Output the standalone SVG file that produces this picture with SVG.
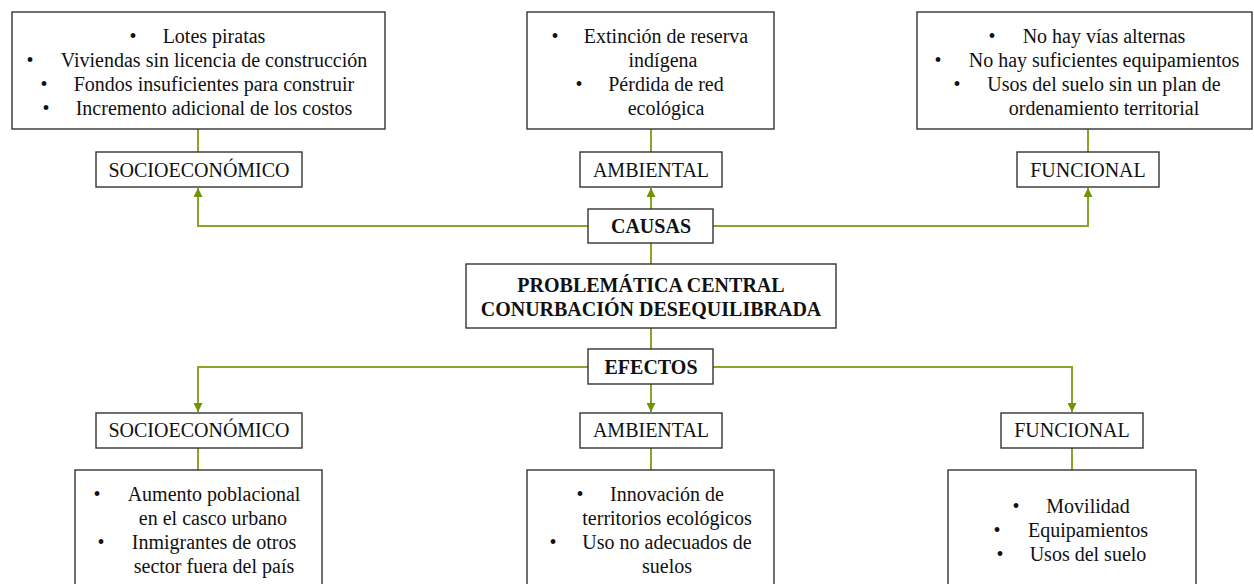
<svg xmlns="http://www.w3.org/2000/svg" width="1254" height="584" viewBox="0 0 1254 584">
<defs>
<marker id="arr" markerUnits="userSpaceOnUse" markerWidth="10" markerHeight="9" refX="9" refY="4.5" orient="auto">
<path d="M0,0 L9,4.5 L0,9 Z" fill="#6f9400"/>
</marker>
<style>
.box{fill:#fff;stroke:#333;stroke-width:1.4}
.t{font-family:"Liberation Serif","Times New Roman",serif;font-size:20px;fill:#111;text-anchor:middle}
.b{font-family:"Liberation Serif","Times New Roman",serif;font-size:20px;font-weight:bold;fill:#111;text-anchor:middle}
.c{fill:none;stroke:#86a62b;stroke-width:2}
.ca{fill:none;stroke:#86a62b;stroke-width:2;marker-end:url(#arr)}
</style>
</defs>
<rect width="1254" height="584" fill="#fff"/>

<g id="connectors">
<path class="c" d="M198,129 V152"/>
<path class="c" d="M651,129 V152"/>
<path class="c" d="M1088,129 V152"/>
<path class="ca" d="M651,209 V188"/>
<path class="ca" d="M588,226 H198 V188"/>
<path class="ca" d="M713,226 H1088 V188"/>
<path class="c" d="M651,243 V264"/>
<path class="c" d="M651,328 V349"/>
<path class="ca" d="M588,367 H198 V412"/>
<path class="ca" d="M651,384 V412"/>
<path class="ca" d="M713,367 H1072 V412"/>
<path class="c" d="M198,448 V470"/>
<path class="c" d="M651,448 V470"/>
<path class="c" d="M1072,448 V470"/>
</g>

<g id="causa-socio-detalle">
<rect class="box" x="12" y="12" width="373" height="117"/>
<text class="t" x="133" y="43">•</text><text class="t" x="214" y="43">Lotes piratas</text>
<text class="t" x="30" y="67">•</text><text class="t" x="214" y="67">Viviendas sin licencia de construcción</text>
<text class="t" x="44" y="91">•</text><text class="t" x="214" y="91">Fondos insuficientes para construir</text>
<text class="t" x="46" y="115">•</text><text class="t" x="214" y="115">Incremento adicional de los costos</text>
</g>
<g id="causa-amb-detalle">
<rect class="box" x="527" y="12" width="247" height="117"/>
<text class="t" x="555" y="43">•</text><text class="t" x="666" y="43">Extinción de reserva</text>
<text class="t" x="663" y="67">indígena</text>
<text class="t" x="579" y="91">•</text><text class="t" x="666" y="91">Pérdida de red</text>
<text class="t" x="666" y="115">ecológica</text>
</g>
<g id="causa-func-detalle">
<rect class="box" x="917" y="12" width="335" height="117"/>
<text class="t" x="992" y="43">•</text><text class="t" x="1104" y="43">No hay vías alternas</text>
<text class="t" x="938" y="67">•</text><text class="t" x="1104" y="67">No hay suficientes equipamientos</text>
<text class="t" x="957" y="91">•</text><text class="t" x="1104" y="91">Usos del suelo sin un plan de</text>
<text class="t" x="1104" y="115">ordenamiento territorial</text>
</g>

<g id="causa-socio">
<rect class="box" x="96" y="152" width="206" height="35"/>
<text class="t" x="199" y="177">SOCIOECONÓMICO</text>
</g>
<g id="causa-amb">
<rect class="box" x="580" y="152" width="142" height="35"/>
<text class="t" x="651" y="177">AMBIENTAL</text>
</g>
<g id="causa-func">
<rect class="box" x="1017" y="152" width="142" height="35"/>
<text class="t" x="1088" y="177">FUNCIONAL</text>
</g>

<g id="causas">
<rect class="box" x="588" y="209" width="125" height="34"/>
<text class="b" x="651" y="233">CAUSAS</text>
</g>
<g id="problematica">
<rect class="box" x="466" y="264" width="370" height="64"/>
<text class="b" x="651" y="292">PROBLEMÁTICA CENTRAL</text>
<text class="b" x="651" y="316">CONURBACIÓN DESEQUILIBRADA</text>
</g>
<g id="efectos">
<rect class="box" x="588" y="349" width="125" height="35"/>
<text class="b" x="651" y="374">EFECTOS</text>
</g>

<g id="efecto-socio">
<rect class="box" x="96" y="413" width="206" height="35"/>
<text class="t" x="199" y="437">SOCIOECONÓMICO</text>
</g>
<g id="efecto-amb">
<rect class="box" x="580" y="413" width="142" height="35"/>
<text class="t" x="651" y="437">AMBIENTAL</text>
</g>
<g id="efecto-func">
<rect class="box" x="1001" y="413" width="142" height="35"/>
<text class="t" x="1072" y="437">FUNCIONAL</text>
</g>

<g id="efecto-socio-detalle">
<rect class="box" x="75" y="470" width="247" height="130"/>
<text class="t" x="97" y="501">•</text><text class="t" x="214" y="501">Aumento poblacional</text>
<text class="t" x="213" y="525">en el casco urbano</text>
<text class="t" x="101" y="549">•</text><text class="t" x="214" y="549">Inmigrantes de otros</text>
<text class="t" x="214" y="573">sector fuera del país</text>
</g>
<g id="efecto-amb-detalle">
<rect class="box" x="527" y="470" width="247" height="130"/>
<text class="t" x="580" y="501">•</text><text class="t" x="667" y="501">Innovación de</text>
<text class="t" x="667" y="525">territorios ecológicos</text>
<text class="t" x="553" y="549">•</text><text class="t" x="667" y="549">Uso no adecuados de</text>
<text class="t" x="667" y="573">suelos</text>
</g>
<g id="efecto-func-detalle">
<rect class="box" x="948" y="470" width="248" height="130"/>
<text class="t" x="1016" y="513">•</text><text class="t" x="1088" y="513">Movilidad</text>
<text class="t" x="997" y="537">•</text><text class="t" x="1088" y="537">Equipamientos</text>
<text class="t" x="1000" y="561">•</text><text class="t" x="1088" y="561">Usos del suelo</text>
</g>
</svg>
